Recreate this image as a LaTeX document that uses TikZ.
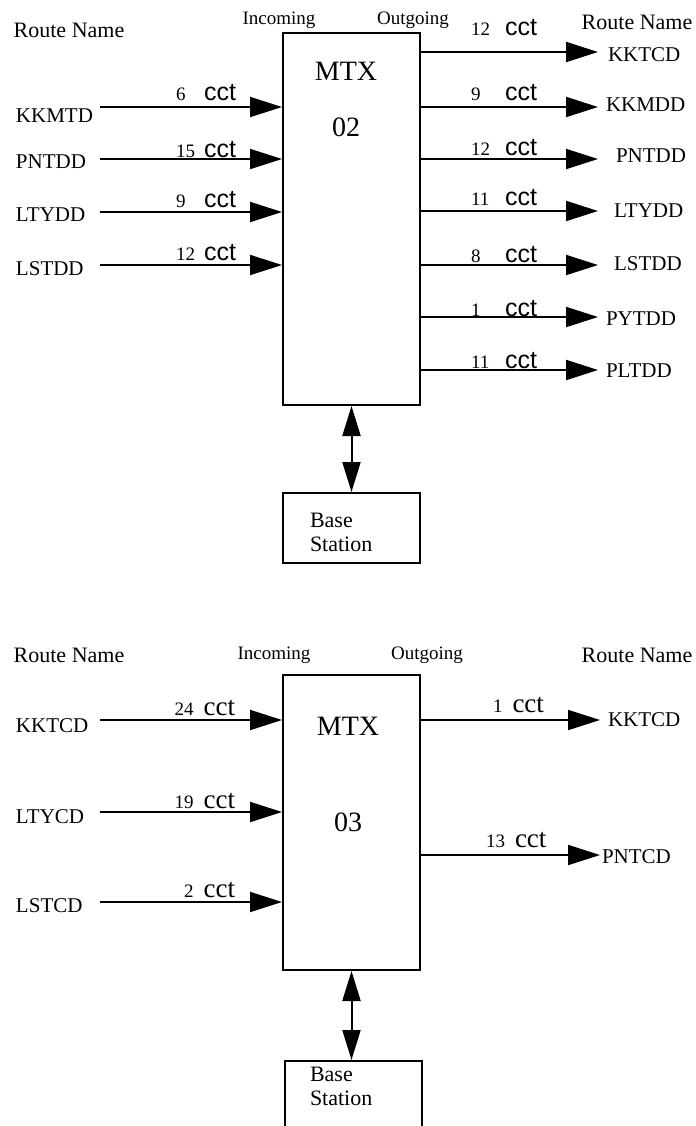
\documentclass[tikz,border=0pt]{standalone}
\usepackage{fontspec}
\setmainfont{Liberation Serif}
\newfontfamily\cctfont{Liberation Sans}
\usetikzlibrary{arrows.meta}
\usetikzlibrary{math}

\newcommand{\cctxt}{{\cctfont\fontsize{12.5}{14}\selectfont cct}}
\newcommand{\cctser}{{\fontsize{13.5}{15}\selectfont cct}}

\begin{document}
\begin{tikzpicture}[x=0.5pt,y=-0.5pt,line width=1pt,
  mtxbox/.style={draw,inner sep=0pt,minimum width=68.5pt},
  basebox/.style={draw,inner sep=0pt,minimum width=68.5pt,minimum height=35pt},
  flow/.style={-{Triangle[length=16pt,width=10pt]}},
  link/.style={{Triangle[length=15pt,width=9pt]}-{Triangle[length=15pt,width=9pt]}},
  route/.style={anchor=west,inner sep=0pt,font=\fontsize{10.5}{12}\selectfont},
  hdr/.style={inner sep=0pt,font=\fontsize{11}{13}\selectfont},
  iolbl/.style={inner sep=0pt,font=\fontsize{9.5}{11}\selectfont},
  cnt/.style={inner sep=0pt,font=\fontsize{9.5}{11}\selectfont},
  mtxlbl/.style={inner sep=0pt,font=\fontsize{14}{16}\selectfont},
  bslbl/.style={anchor=west,align=left,inner sep=0pt,font=\fontsize{11}{12}\selectfont}]
\tikzmath{
\xl=15;
\xin=100;
\xout=598;
}
\useasboundingbox (0,0) rectangle (696,1126);
\clip (0,0) rectangle (696,1126);

% MTX 02
\node[mtxbox,minimum height=186pt] (mtx02) at (351.5,219) {};
\node[mtxlbl] (mtx02a) at (346,71) {MTX};
\node[mtxlbl] (mtx02b) at (346,127) {02};
\node[basebox] (bs02) at (351.5,528) {};
\node[bslbl] (bs02t) at (309,532) {Base\\Station};
\draw[link] (mtx02.south) -- (bs02.north);

\node[hdr] (rn02l) at (69,30) {Route Name};
\node[iolbl] (in02) at (279,20) {Incoming};
\node[iolbl] (out02) at (413,20) {Outgoing};
\node[hdr] (rn02r) at (637,22) {Route Name};

\foreach \y/\ly/\bl/\cn/\nm [count=\i] in {107/116/100/6/KKMTD, 159/162/157/15/PNTDD,
    212/215/207/9/LTYDD, 265/269/260/12/LSTDD}{
  \node[route] (in02r\i) at (\xl,\ly) {\nm};
  \coordinate (in02s\i) at (\xin,\y);
  \draw[flow] (in02s\i) -- (in02s\i -| mtx02.west);
  \node[cnt,anchor=base west] (in02c\i) at (175,\bl) {\makebox[14pt][l]{\cn}\cctxt};
}

\foreach \y/\ly/\lx/\bl/\cn/\nm [count=\i] in {52/55/607/35/12/KKTCD, 107/105/605/100/9/KKMDD,
    159/156/615/155/12/PNTDD, 211/211/613/205/11/LTYDD, 265/264/613/262/8/LSTDD,
    317/319/605/316/1/PYTDD, 370/371/605/368/11/PLTDD}{
  \coordinate (out02e\i) at (\xout,\y);
  \draw[flow] (out02e\i -| mtx02.east) -- (out02e\i);
  \node[route] (out02r\i) at (\lx,\ly) {\nm};
  \node[cnt,anchor=base west] (out02c\i) at (470,\bl) {\makebox[17pt][l]{\cn}\cctxt};
}

% MTX 03
\begin{scope}
\node[mtxbox,minimum height=147.5pt] (mtx03) at (351.5,822.5) {};
\node[mtxlbl] (mtx03a) at (348,726) {MTX};
\node[mtxlbl] (mtx03b) at (348,822) {03};
\node[basebox] (bs03) at (353,1096) {};
\node[bslbl] (bs03t) at (309,1086) {Base\\Station};
\draw[link] (mtx03.south) -- (bs03.north -| mtx03.south);

\node[hdr] (rn03l) at (69,655) {Route Name};
\node[iolbl] (in03) at (274,655) {Incoming};
\node[iolbl] (out03) at (427,655) {Outgoing};
\node[hdr] (rn03r) at (637,655) {Route Name};

\foreach \y/\ly/\bl/\cn/\nm [count=\i] in {720/726/715/24/KKTCD, 812/817/808/19/LTYCD,
    902/906/897/2/LSTCD}{
  \node[route] (in03r\i) at (\xl,\ly) {\nm};
  \coordinate (in03s\i) at (\xin,\y);
  \draw[flow] (in03s\i) -- (in03s\i -| mtx03.west);
  \node[cnt,anchor=base east] (in03c\i) at (236,\bl) {\cn\hspace{5pt}\cctser};
}

\foreach \y/\ly/\lx/\bx/\bl/\cn/\nm [count=\i] in {720/720/607/492/712/1/KKTCD,
    855/857/601/485/847/13/PNTCD}{
  \coordinate (out03e\i) at (600,\y);
  \draw[flow] (out03e\i -| mtx03.east) -- (out03e\i);
  \node[route] (out03r\i) at (\lx,\ly) {\nm};
  \node[cnt,anchor=base west] (out03c\i) at (\bx,\bl) {\cn\hspace{5pt}\cctser};
}
\end{scope}
\end{tikzpicture}
\end{document}
